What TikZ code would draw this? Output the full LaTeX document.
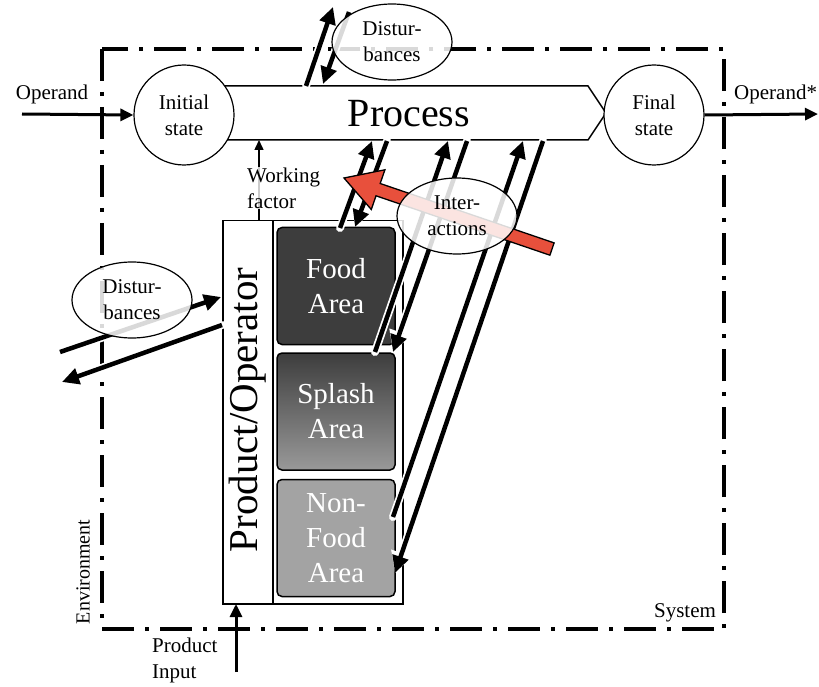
\documentclass[tikz,border=0pt]{standalone}
\usepackage{fontspec}
\setmainfont{Liberation Serif}
\usetikzlibrary{arrows.meta,shapes.geometric}
\definecolor{redarrow}{RGB}{232,80,60}
\begin{document}
\begin{tikzpicture}[x=1pt,y=-1pt,
  lbl/.style={font=\fontsize{21}{26}\selectfont, align=center, inner sep=0pt},
  state/.style={circle, draw, line width=1.2pt, fill=white, minimum size=100pt, inner sep=0pt, lbl},
  bubble/.style={ellipse, draw, line width=1.2pt, fill=white, fill opacity=0.85, text opacity=1, minimum width=120pt, minimum height=76pt, inner sep=0pt, lbl},
  area/.style={draw=black, line width=1.5pt, rounded corners=5pt, minimum width=118pt, minimum height=117pt, text=white, font=\fontsize{29}{35}\selectfont, align=center, inner sep=0pt},
  framebox/.style={draw, line width=1.5pt, fill=white, inner sep=0pt, anchor=north west},
  bigarrow/.style={line width=4.5pt, -{Triangle[length=17pt,width=16pt]},
     preaction={draw=white, line width=8pt, line cap=round, -{Triangle[length=21pt,width=21pt]}}},
  flowarrow/.style={line width=3pt, -{Triangle[length=13pt,width=12pt]}},
  thinarrow/.style={line width=1.5pt, -{Triangle[length=10pt,width=9pt]}},
  boundary/.style={line width=3.5pt, dash pattern=on 32pt off 11pt on 4pt off 11pt}
]
\useasboundingbox (0,0) rectangle (819,687);

% system boundary
\draw[boundary] (102,49) rectangle (724,629);

% process bar
\draw[line width=1.5pt, fill=white] (190,86) -- (588,86) -- (606,113) -- (588,140) -- (190,140) -- cycle;
\node[font=\fontsize{40}{40}\selectfont, inner sep=0pt] (proc) at (409,114) {Process};

% states
\node[state] (init) at (184,115) {Initial\\state};
\node[state] (final) at (654,115) {Final\\state};

% operand arrows
\coordinate (opin) at (22,114);
\coordinate (opout) at (818,114);
\draw[flowarrow] (opin) -- (init.west);
\draw[flowarrow] (final.east) -- (opout);
\node[lbl] (operand) at (52,94) {Operand};
\node[lbl, anchor=west] (operandstar) at (734,94) {Operand*};

% product / operator box
\node[framebox, minimum width=50pt, minimum height=383pt] (oper) at (222,220) {};
\node[framebox, minimum width=130pt, minimum height=383pt] (zones) at (272,220) {};
\node[rotate=90, font=\fontsize{41}{41}\selectfont, inner sep=0pt] (opertext) at (248,410) {Product/Operator};

% areas
\node[area, fill=black!76] (food) at (336,286) {Food\\Area};
\node[area, top color=black!76, bottom color=black!40] (splash) at (336,411.5) {Splash\\Area};
\node[area, fill=black!36] (nonfood) at (336,538) {Non-\\Food\\Area};

% working factor
\coordinate (wfbot) at (259,220);
\coordinate (wftop) at (259,140);
\draw[thinarrow] (wfbot) -- (wftop);
\node[lbl, align=left, anchor=west, fill=white, fill opacity=0.8, text opacity=1, inner sep=1pt] (wf) at (246,188) {Working\\factor};

% product input
\coordinate (pin) at (236,672);
\coordinate (pintop) at (236,604);
\draw[flowarrow] (pin) -- (pintop);
\node[lbl, align=left, anchor=west] (pinlbl) at (152,660) {Product\\Input};

% top disturbance arrows
\coordinate (tu1) at (306,86);
\coordinate (tu2) at (333,7);
\coordinate (td1) at (349,12);
\coordinate (td2) at (323,84);
\draw[bigarrow] (tu1) -- (tu2);
\draw[bigarrow] (td1) -- (td2);

% left disturbance arrows
\coordinate (lu1) at (60,352);
\coordinate (lu2) at (221,297);
\coordinate (ld1) at (222,325);
\coordinate (ld2) at (62,382);
\draw[bigarrow] (lu1) -- (lu2);
\draw[bigarrow] (ld1) -- (ld2);

% interaction arrows
\coordinate (fu1) at (340,228);
\coordinate (fu2) at (372,141);
\coordinate (fd1) at (387,141);
\coordinate (fd2) at (355,227);
\coordinate (su1) at (375,352);
\coordinate (su2) at (448,141);
\coordinate (sd1) at (467,141);
\coordinate (sd2) at (393,352);
\coordinate (nu1) at (393,517);
\coordinate (nu2) at (523,141);
\coordinate (nd1) at (543,141);
\coordinate (nd2) at (395,573);
\draw[bigarrow] (fu1) -- (fu2);
\draw[bigarrow] (fd1) -- (fd2);
\draw[bigarrow] (su1) -- (su2);
\draw[bigarrow] (sd1) -- (sd2);
\draw[bigarrow] (nu1) -- (nu2);
\draw[bigarrow] (nd1) -- (nd2);

% red arrow
\draw[line width=1.3pt, fill=redarrow, line join=miter]
  (344,178) -- (384.9,169.8) -- (380.2,183.5) -- (554.1,242.9) -- (549.9,255.2) -- (376.0,195.8) -- (371.3,209.5) -- cycle;

% bubbles
\node[bubble] (disttop) at (392,42) {Distur-\\bances};
\node[bubble] (distleft) at (132,300) {Distur-\\bances};
\node[bubble] (inter) at (457,216) {Inter-\\actions};

% labels
\node[lbl] (system) at (685,613) {System};
\node[lbl, rotate=90, font=\fontsize{20}{24}\selectfont] (env) at (83,572) {Environment};
\end{tikzpicture}
\end{document}
